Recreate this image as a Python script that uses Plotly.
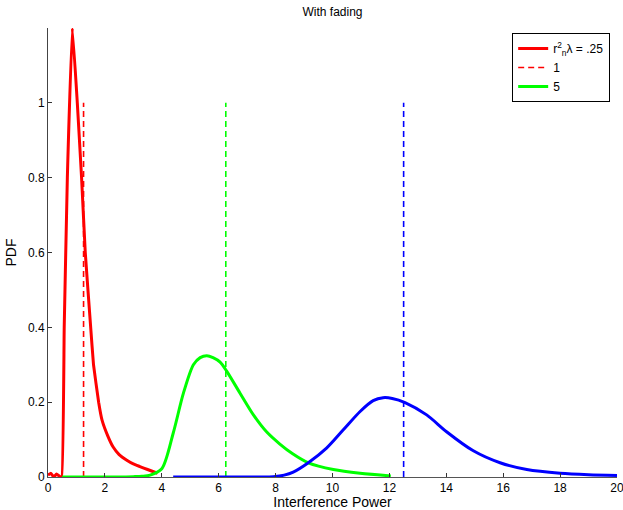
import plotly.graph_objects as go

# Data
red_x = [0.0, 0.1, 0.2, 0.3, 0.4, 0.48, 0.57, 0.68, 0.855, 1.03, 1.18, 1.31, 1.5, 1.6, 1.78, 1.9, 2.1, 2.29, 2.5, 2.77, 3.0, 3.23, 3.5, 3.85]
red_y = [0.005, 0.01, 0.0, 0.008, 0.002, 0.0, 0.4, 0.8, 1.2, 1.0, 0.8, 0.6, 0.4, 0.3, 0.2, 0.152, 0.11, 0.08, 0.06, 0.045, 0.035, 0.028, 0.02, 0.01]

green_x = [0.5, 1.5, 2.5, 3.0, 3.3, 3.59, 4.0, 4.4, 4.76, 5.11, 5.35, 5.58, 5.8, 6.05, 6.28, 6.75, 7.22, 7.69, 8.15, 8.6, 9.15, 10.03, 10.97, 12.05]
green_y = [0.0, 0.0, 0.0, 0.001, 0.002, 0.005, 0.022, 0.117, 0.224, 0.3, 0.319, 0.324, 0.319, 0.307, 0.283, 0.224, 0.166, 0.12, 0.088, 0.062, 0.038, 0.02, 0.01, 0.003]

blue_x = [4.4, 6.0, 7.0, 7.5, 7.92, 8.3, 8.62, 9.15, 9.79, 10.38, 10.97, 11.43, 11.78, 12.1, 12.55, 13.31, 14.01, 14.95, 15.89, 16.83, 18.0, 19.0, 20.0]
blue_y = [0.0, 0.0, 0.0, 0.0, 0.001, 0.005, 0.013, 0.038, 0.077, 0.126, 0.175, 0.204, 0.212, 0.21, 0.199, 0.166, 0.121, 0.07, 0.038, 0.02, 0.01, 0.006, 0.004]

mean_x = [1.25, 6.25, 12.5]
mean_top = 1.0
labels = ["r<sup>2</sup><sub>n</sub>λ = .25", "1", "5"]

RED, GREEN, BLUE = "#ff0000", "#00ff00", "#0000ff"
DASH = "6px,4px"

fig = go.Figure()
fig.add_trace(go.Scatter(x=red_x, y=red_y, mode="lines", name=labels[0],
                         line=dict(color=RED, width=3, shape="spline", smoothing=0.3)))
fig.add_trace(go.Scatter(x=[mean_x[0], mean_x[0]], y=[0, mean_top], mode="lines", name=labels[1],
                         line=dict(color=RED, width=1.6, dash=DASH)))
fig.add_trace(go.Scatter(x=green_x, y=green_y, mode="lines", name=labels[2],
                         line=dict(color=GREEN, width=3, shape="spline", smoothing=0.8)))
fig.add_trace(go.Scatter(x=[mean_x[1], mean_x[1]], y=[0, mean_top], mode="lines", showlegend=False,
                         line=dict(color=GREEN, width=1.6, dash=DASH)))
fig.add_trace(go.Scatter(x=blue_x, y=blue_y, mode="lines", showlegend=False,
                         line=dict(color=BLUE, width=3, shape="spline", smoothing=0.8)))
fig.add_trace(go.Scatter(x=[mean_x[2], mean_x[2]], y=[0, mean_top], mode="lines", showlegend=False,
                         line=dict(color=BLUE, width=1.6, dash=DASH)))

font = "Liberation Sans, Arial, Helvetica, sans-serif"
fig.update_layout(
    width=623, height=510,
    margin=dict(l=48, r=6, t=28, b=33),
    paper_bgcolor="white", plot_bgcolor="white",
    font=dict(family=font, size=12, color="#000"),
    title=dict(text="With fading", x=(48 + 617) / 2 / 623, xanchor="center",
               y=1 - 12 / 510, yanchor="middle", font=dict(size=12)),
    showlegend=True,
    legend=dict(x=0.988, xanchor="right", y=0.989, yanchor="top",
                bordercolor="#000", borderwidth=1, bgcolor="white",
                font=dict(size=12), itemwidth=30, tracegroupgap=0),
)
fig.update_xaxes(range=[0, 20], tickvals=list(range(0, 21, 2)), ticks="inside", ticklen=4,
                 showline=True, linecolor="#555", linewidth=1, tickcolor="#333",
                 showgrid=False, zeroline=False, mirror=False, automargin=False,
                 ticklabeloverflow="allow",
                 title=dict(text="Interference Power", standoff=2))
fig.update_yaxes(range=[0, 1.2], tickvals=[0, 0.2, 0.4, 0.6, 0.8, 1], ticktext=["0", "0.2", "0.4", "0.6", "0.8", "1"],
                 ticks="inside", ticklen=4,
                 showline=True, linecolor="#444", linewidth=1, tickcolor="#333",
                 showgrid=False, zeroline=False, mirror=False, automargin=False,
                 title=dict(text="PDF", standoff=8))

fig.write_html("out.html", config={"displayModeBar": False},
               post_script="document.body.style.margin='0';document.body.style.overflow='hidden';")
